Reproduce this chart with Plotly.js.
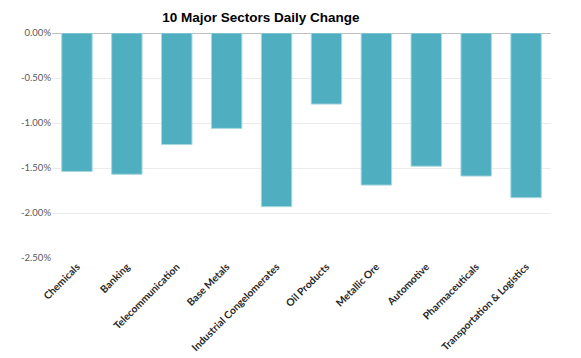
<!DOCTYPE html>
<html>
<head>
<meta charset="utf-8">
<script src="https://cdn.plot.ly/plotly-3.0.1.min.js"></script>
<style>html,body{margin:0;padding:0;background:#fff;}#chart{width:581px;height:358px;}</style>
</head>
<body>
<div id="chart"></div>
<script>
const sectors = ["Chemicals", "Banking", "Telecommunication", "Base Metals", "Industrial Congelomerates", "Oil Products", "Metallic Ore", "Automotive", "Pharmaceuticals", "Transportation & Logistics"];
const dailyChange = [-1.54, -1.57, -1.24, -1.06, -1.93, -0.79, -1.69, -1.48, -1.59, -1.83];
const yTicks = [0, -0.5, -1.0, -1.5, -2.0, -2.5];
const yTickLabels = ["0.00%", "-0.50%", "-1.00%", "-1.50%", "-2.00%", "-2.50%"];

const trace = {
  type: 'bar',
  x: sectors,
  y: dailyChange,
  marker: {color: '#4FAFC0', line: {color: '#a8d8e0', width: 1}},
  hoverinfo: 'x+y'
};

const layout = {
  width: 581, height: 358,
  margin: {l: 52, r: 30, t: 33, b: 100},
  paper_bgcolor: '#ffffff', plot_bgcolor: '#ffffff',
  title: {text: '<b>10 Major Sectors Daily Change</b>', x: 0.449, xanchor: 'center', y: 0.953, yanchor: 'middle',
          font: {family: 'Liberation Sans, Arial, sans-serif', size: 13.5, color: '#000000'}},
  bargap: 0.39,
  showlegend: false,
  xaxis: {
    tickangle: -45,
    tickfont: {family: 'Lato, Open Sans, sans-serif', size: 10.2, color: '#262626', weight: 'bold'},
    showgrid: false, zeroline: false, showline: false, ticks: ''
  },
  yaxis: {
    range: [-2.5, 0],
    tickmode: 'array',
    tickvals: yTicks,
    ticktext: yTickLabels,
    tickfont: {family: 'Lato, Open Sans, sans-serif', size: 9.5, color: '#595959'},
    showgrid: true, gridcolor: '#ebebeb', gridwidth: 1,
    zeroline: true, zerolinecolor: '#c0c0c0', zerolinewidth: 1,
    showline: false, ticks: '', automargin: false
  }
};

Plotly.newPlot('chart', [trace], layout, {displayModeBar: false, staticPlot: true});
</script>
</body>
</html>
